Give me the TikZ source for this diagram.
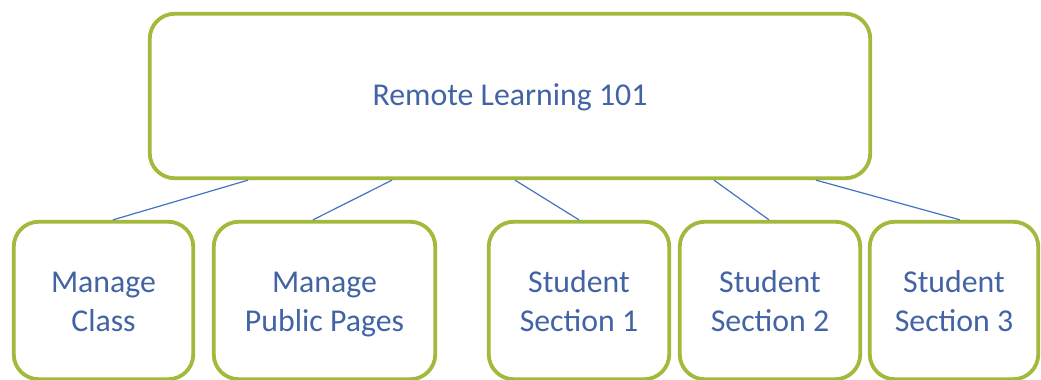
\documentclass[tikz,border=0pt]{standalone}
\usepackage{fontspec}
\setmainfont{Carlito}
\definecolor{boxgreen}{RGB}{162,185,60}
\definecolor{txtblue}{RGB}{66,100,165}
\definecolor{lineblue}{RGB}{68,114,196}
\newcommand\myhitop{\rule{0pt}{35pt}}
\newcommand\mylodep{\rule[-11.5pt]{0pt}{11.5pt}}
\newcommand\mysingle{\rule[-8pt]{0pt}{35pt}}
\tikzset{
  boxstyle/.style={draw=boxgreen, line width=3.8pt, rounded corners=25pt, fill=white,
    text=txtblue, align=center, inner sep=0pt,
    font=\fontsize{31.8}{39}\selectfont},
  conn/.style={draw=lineblue, line width=1.2pt}
}
\begin{document}
\begin{tikzpicture}[x=1pt,y=1pt]
\path[use as bounding box] (0,0) rectangle (1041,380);
\node[boxstyle, minimum width=720.5pt, minimum height=164.5pt] (top) at (510,284) {\mysingle Remote Learning 101};
\node[boxstyle, minimum width=179.5pt, minimum height=157.5pt] (b1) at (103.5,79.5) {\myhitop Manage\\Class\mylodep};
\node[boxstyle, minimum width=221.5pt, minimum height=157.5pt] (b2) at (324.5,79.5) {\myhitop Manage\\Public Pages\mylodep};
\node[boxstyle, minimum width=180.5pt, minimum height=157.5pt] (b3) at (579,79.5) {\myhitop Student\\Section 1\mylodep};
\node[boxstyle, minimum width=180.5pt, minimum height=157.5pt] (b4) at (770,79.5) {\myhitop Student\\Section 2\mylodep};
\node[boxstyle, minimum width=168.5pt, minimum height=157.5pt] (b5) at (954,79.5) {\myhitop Student\\Section 3\mylodep};
\draw[conn] (top.south -| 248,0) -- (b1.north -| 113,0);
\draw[conn] (top.south -| 392,0) -- (b2.north -| 313,0);
\draw[conn] (top.south -| 515,0) -- (b3.north -| 579,0);
\draw[conn] (top.south -| 714,0) -- (b4.north -| 769,0);
\draw[conn] (top.south -| 816,0) -- (b5.north -| 960,0);
\end{tikzpicture}
\end{document}
